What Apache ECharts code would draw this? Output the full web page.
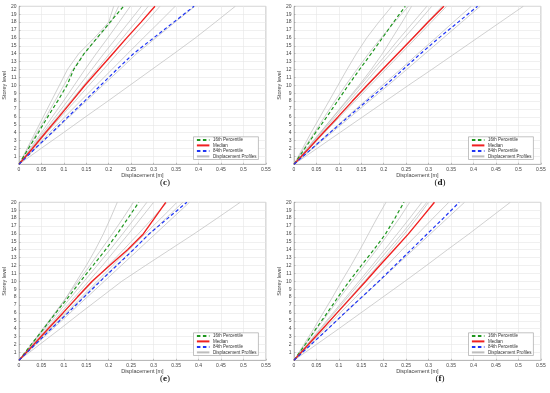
<!DOCTYPE html>
<html>
<head>
<meta charset="utf-8">
<script src="https://cdn.jsdelivr.net/npm/echarts@6/dist/echarts.min.js"></script>
<style>html,body{margin:0;padding:0;background:#fff}#chart{width:550px;height:393px}</style>
</head>
<body>
<div id="chart"></div>
<script>
// Storey levels at which displacements are read
const storeys = [0, 2, 4, 6, 8, 10, 12, 14, 16, 18, 20];
const xTicks = [0, 0.05, 0.1, 0.15, 0.2, 0.25, 0.3, 0.35, 0.4, 0.45, 0.5, 0.55];
const panelLabels = ['c', 'd', 'e', 'f'];
const legendNames = ['16th Percentile', 'Median', '84th Percentile', 'Displacement Profiles'];

// Panel (c)
const c_p16 = [0, 0.021, 0.043, 0.064, 0.086, 0.107, 0.122, 0.145, 0.174, 0.203, 0.233];
const c_median = [0, 0.030, 0.059, 0.089, 0.118, 0.147, 0.178, 0.209, 0.240, 0.272, 0.303];
const c_p84 = [0, 0.036, 0.073, 0.109, 0.146, 0.182, 0.218, 0.255, 0.300, 0.345, 0.390];
const c_profiles = [
  [0, 0.018, 0.036, 0.054, 0.072, 0.090, 0.108, 0.133, 0.168, 0.200, 0.211],
  [0, 0.020, 0.040, 0.060, 0.080, 0.100, 0.120, 0.145, 0.175, 0.205, 0.222],
  [0, 0.025, 0.050, 0.074, 0.099, 0.123, 0.147, 0.172, 0.198, 0.223, 0.248],
  [0, 0.027, 0.054, 0.081, 0.108, 0.135, 0.162, 0.189, 0.217, 0.245, 0.273],
  [0, 0.028, 0.057, 0.086, 0.115, 0.144, 0.173, 0.202, 0.231, 0.260, 0.288],
  [0, 0.031, 0.062, 0.093, 0.125, 0.156, 0.188, 0.219, 0.251, 0.283, 0.314],
  [0, 0.034, 0.068, 0.102, 0.137, 0.172, 0.207, 0.242, 0.277, 0.313, 0.348],
  [0, 0.037, 0.075, 0.112, 0.150, 0.187, 0.225, 0.262, 0.305, 0.348, 0.392],
  [0, 0.049, 0.099, 0.148, 0.198, 0.247, 0.296, 0.345, 0.393, 0.438, 0.482]
];

// Panel (d)
const d_p16 = [0, 0.024, 0.048, 0.073, 0.097, 0.121, 0.146, 0.172, 0.197, 0.222, 0.248];
const d_median = [0, 0.033, 0.065, 0.098, 0.130, 0.163, 0.197, 0.231, 0.265, 0.299, 0.334];
const d_p84 = [0, 0.040, 0.080, 0.121, 0.162, 0.204, 0.243, 0.282, 0.323, 0.366, 0.409];
const d_profiles = [
  [0, 0.019, 0.038, 0.058, 0.078, 0.098, 0.118, 0.139, 0.162, 0.189, 0.218],
  [0, 0.022, 0.045, 0.068, 0.091, 0.115, 0.140, 0.166, 0.194, 0.224, 0.255],
  [0, 0.029, 0.058, 0.087, 0.116, 0.145, 0.172, 0.197, 0.219, 0.241, 0.262],
  [0, 0.029, 0.059, 0.088, 0.118, 0.148, 0.177, 0.207, 0.236, 0.266, 0.296],
  [0, 0.031, 0.061, 0.092, 0.123, 0.154, 0.184, 0.215, 0.246, 0.277, 0.307],
  [0, 0.033, 0.066, 0.099, 0.132, 0.165, 0.198, 0.231, 0.264, 0.297, 0.330],
  [0, 0.034, 0.068, 0.102, 0.136, 0.170, 0.204, 0.238, 0.272, 0.306, 0.340],
  [0, 0.039, 0.079, 0.118, 0.158, 0.197, 0.237, 0.276, 0.316, 0.355, 0.395],
  [0, 0.042, 0.084, 0.126, 0.168, 0.210, 0.251, 0.292, 0.333, 0.374, 0.415],
  [0, 0.051, 0.102, 0.153, 0.204, 0.255, 0.307, 0.358, 0.409, 0.460, 0.511]
];

// Panel (e)
const e_p16 = [0, 0.027, 0.055, 0.082, 0.110, 0.137, 0.165, 0.193, 0.219, 0.243, 0.267];
const e_median = [0, 0.033, 0.065, 0.098, 0.130, 0.163, 0.202, 0.242, 0.277, 0.302, 0.327];
const e_p84 = [0, 0.036, 0.072, 0.109, 0.145, 0.181, 0.218, 0.255, 0.290, 0.332, 0.374];
const e_profiles = [
  [0, 0.028, 0.055, 0.081, 0.106, 0.128, 0.150, 0.170, 0.188, 0.204, 0.219],
  [0, 0.027, 0.053, 0.080, 0.106, 0.132, 0.158, 0.183, 0.208, 0.232, 0.255],
  [0, 0.029, 0.058, 0.087, 0.116, 0.145, 0.174, 0.203, 0.231, 0.258, 0.285],
  [0, 0.031, 0.062, 0.093, 0.124, 0.155, 0.186, 0.215, 0.244, 0.272, 0.300],
  [0, 0.033, 0.066, 0.099, 0.132, 0.165, 0.199, 0.233, 0.266, 0.298, 0.330],
  [0, 0.034, 0.069, 0.104, 0.139, 0.174, 0.209, 0.245, 0.281, 0.317, 0.352],
  [0, 0.035, 0.071, 0.107, 0.143, 0.179, 0.216, 0.254, 0.291, 0.328, 0.365],
  [0, 0.038, 0.076, 0.114, 0.152, 0.190, 0.228, 0.266, 0.304, 0.342, 0.380],
  [0, 0.046, 0.092, 0.137, 0.183, 0.229, 0.282, 0.336, 0.390, 0.442, 0.493]
];

// Panel (f)
const f_p16 = [0, 0.025, 0.049, 0.074, 0.098, 0.123, 0.150, 0.178, 0.204, 0.225, 0.245];
const f_median = [0, 0.032, 0.064, 0.096, 0.128, 0.160, 0.191, 0.223, 0.255, 0.284, 0.313];
const f_p84 = [0, 0.038, 0.076, 0.113, 0.151, 0.189, 0.225, 0.261, 0.297, 0.333, 0.368];
const f_profiles = [
  [0, 0.022, 0.044, 0.065, 0.086, 0.106, 0.127, 0.147, 0.166, 0.185, 0.205],
  [0, 0.025, 0.051, 0.077, 0.103, 0.130, 0.157, 0.184, 0.210, 0.235, 0.258],
  [0, 0.029, 0.058, 0.087, 0.116, 0.145, 0.174, 0.202, 0.230, 0.258, 0.285],
  [0, 0.030, 0.060, 0.090, 0.120, 0.150, 0.180, 0.210, 0.240, 0.268, 0.296],
  [0, 0.032, 0.064, 0.095, 0.126, 0.157, 0.187, 0.217, 0.246, 0.274, 0.300],
  [0, 0.034, 0.069, 0.103, 0.138, 0.172, 0.207, 0.241, 0.276, 0.310, 0.345],
  [0, 0.038, 0.076, 0.114, 0.152, 0.190, 0.228, 0.266, 0.304, 0.342, 0.380],
  [0, 0.050, 0.100, 0.149, 0.198, 0.247, 0.295, 0.342, 0.390, 0.436, 0.482]
];

const panels = [
  { p16: c_p16, med: c_median, p84: c_p84, prof: c_profiles },
  { p16: d_p16, med: d_median, p84: d_p84, prof: d_profiles },
  { p16: e_p16, med: e_median, p84: e_p84, prof: e_profiles },
  { p16: f_p16, med: f_median, p84: f_p84, prof: f_profiles }
];

const layout = [
  { left: 19, top: 6.3 },
  { left: 294, top: 6.3 },
  { left: 19, top: 202.3 },
  { left: 294, top: 202.3 }
];
const GW = 246.8, GH = 158;
const FONT = "'Liberation Sans', Arial, Helvetica, sans-serif";

const toPts = vals => vals.map((v, i) => [v, storeys[i]]);

const grids = [], xAxes = [], yAxes = [], series = [], legends = [], graphics = [];
panels.forEach((p, k) => {
  const L = layout[k];
  grids.push({ left: L.left, top: L.top, width: GW, height: GH, show: true,
    borderColor: '#a8a8a8', borderWidth: 0.6, backgroundColor: '#fff' });
  xAxes.push({
    type: 'value', gridIndex: k, min: 0, max: 0.55, interval: 0.05,
    name: 'Displacement [m]', nameLocation: 'middle', nameGap: 7,
    nameTextStyle: { fontSize: 5.5, color: '#444', fontFamily: FONT },
    axisLine: { show: true, lineStyle: { color: '#a0a0a0', width: 0.6 } },
    axisTick: { show: true, inside: true, length: 1.5, lineStyle: { color: '#888', width: 0.5 } },
    axisLabel: { fontSize: 5, color: '#444', margin: 2.5, fontFamily: FONT,
      formatter: v => String(+v.toFixed(2)) },
    splitLine: { show: true, lineStyle: { color: '#e6e6e6', width: 0.6 } }
  });
  yAxes.push({
    type: 'value', gridIndex: k, min: 0, max: 20, interval: 1,
    name: 'Storey level', nameLocation: 'middle', nameGap: 9,
    nameTextStyle: { fontSize: 5.5, color: '#444', fontFamily: FONT },
    axisLine: { show: true, lineStyle: { color: '#a0a0a0', width: 0.6 } },
    axisTick: { show: true, inside: true, length: 1.5, lineStyle: { color: '#888', width: 0.5 } },
    axisLabel: { fontSize: 5, color: '#444', margin: 2.5, showMinLabel: false, fontFamily: FONT },
    splitLine: { show: true, lineStyle: { color: '#e6e6e6', width: 0.6 } }
  });
  p.prof.forEach(vals => {
    series.push({ type: 'line', name: 'Displacement Profiles', xAxisIndex: k, yAxisIndex: k,
      data: toPts(vals), showSymbol: false, symbol: 'none', silent: true,
      lineStyle: { color: '#bdbdbd', width: 0.7 }, itemStyle: { color: '#bdbdbd' } });
  });
  series.push({ type: 'line', name: '16th Percentile', xAxisIndex: k, yAxisIndex: k,
    data: toPts(p.p16), showSymbol: false, symbol: 'none',
    lineStyle: { color: '#1e961e', width: 1.2, type: [3.5, 2.5] }, itemStyle: { color: '#1e961e' } });
  series.push({ type: 'line', name: 'Median', xAxisIndex: k, yAxisIndex: k,
    data: toPts(p.med), showSymbol: false, symbol: 'none',
    lineStyle: { color: '#f02020', width: 1.4 }, itemStyle: { color: '#f02020' } });
  series.push({ type: 'line', name: '84th Percentile', xAxisIndex: k, yAxisIndex: k,
    data: toPts(p.p84), showSymbol: false, symbol: 'none',
    lineStyle: { color: '#1f35f5', width: 1.2, type: [3.5, 2.5] }, itemStyle: { color: '#1f35f5' } });

  legends.push({
    data: legendNames, orient: 'vertical', left: L.left + 174.5, top: L.top + 130.5,
    itemWidth: 12.5, itemHeight: 5, itemGap: 0.5, padding: [0.6, 2, 0.6, 2.4],
    backgroundColor: '#fff', borderColor: '#9a9a9a', borderWidth: 0.6, borderRadius: 0,
    selectedMode: false,
    itemStyle: { opacity: 0 },
    textStyle: { fontSize: 4.5, color: '#333', fontFamily: FONT, padding: [0, 0, 0, -1.5] }
  });
  graphics.push({
    type: 'text', x: L.left + 146, y: L.top + 176.5,
    style: {
      text: '{n|(}{b|' + panelLabels[k] + '}{n|)}', align: 'center', verticalAlign: 'middle',
      rich: {
        n: { fontSize: 9, fontFamily: "'Liberation Serif', 'Times New Roman', serif", fill: '#111' },
        b: { fontSize: 9, fontWeight: 'bold', fontFamily: "'Liberation Serif', 'Times New Roman', serif", fill: '#111' }
      }
    }
  });
});

const chart = echarts.init(document.getElementById('chart'), null, { renderer: 'canvas' });
chart.setOption({
  animation: false,
  backgroundColor: '#fff',
  grid: grids, xAxis: xAxes, yAxis: yAxes, series: series, legend: legends,
  graphic: graphics
});
</script>
</body>
</html>
